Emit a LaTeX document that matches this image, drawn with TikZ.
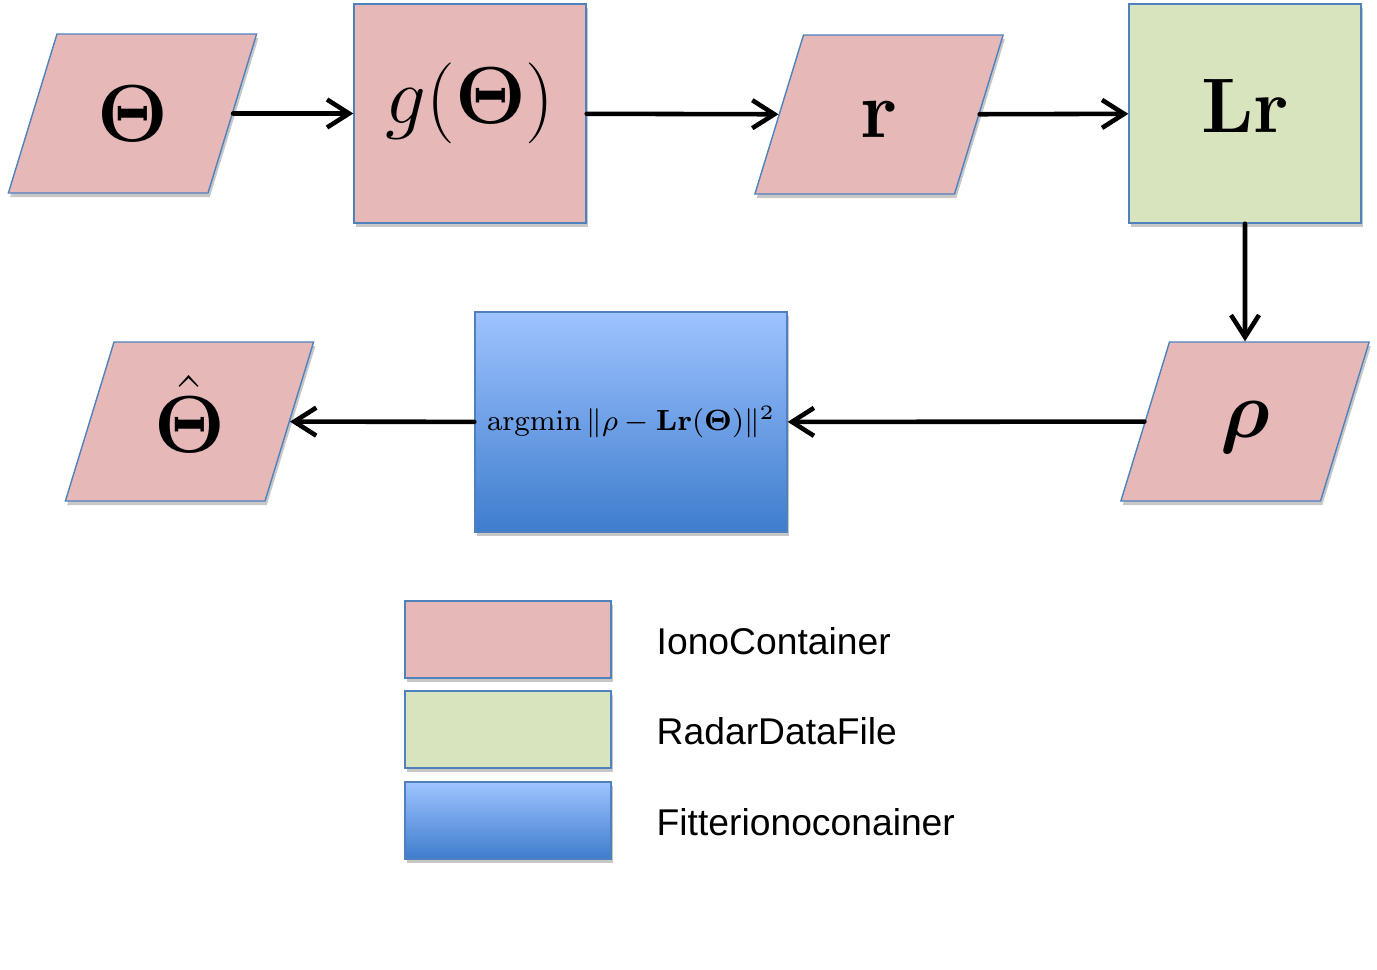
\RequirePackage{fix-cm}
\documentclass[tikz,border=0pt]{standalone}
\usepackage{amsmath}
\usepackage{amssymb}
\usepackage{bm}
\usepackage[no-math]{fontspec}
\setsansfont{Liberation Sans}
\usepackage{tikz}
\usetikzlibrary{shapes.geometric,arrows.meta,shadows}
\definecolor{ionopink}{RGB}{230,185,184}
\definecolor{radargreen}{RGB}{215,228,189}
\definecolor{fittop}{RGB}{158,195,255}
\definecolor{fitbottom}{RGB}{62,125,205}
\definecolor{edgeblue}{RGB}{79,129,189}

\begin{document}
\begin{tikzpicture}[x=1cm,y=-1cm,
		shade drop/.style={drop shadow={shadow xshift=0.5pt,shadow yshift=-1.2pt,fill=black,opacity=0.22}},
		iono/.style={trapezium,trapezium left angle=73,trapezium right angle=107,
			text width=1.51cm,align=center,text height=1.075cm,text depth=0.515cm,
			inner sep=0pt,fill=ionopink,draw=edgeblue,shade drop},
		block/.style={rectangle,minimum width=2.32cm,minimum height=2.19cm,inner sep=0pt,draw=edgeblue,shade drop},
		legbox/.style={rectangle,minimum width=2.06cm,minimum height=0.77cm,inner sep=0pt,draw=edgeblue,shade drop},
		fitshade/.style={top color=fittop,bottom color=fitbottom},
		big/.style={font=\fontsize{23}{28}\selectfont},
		legtext/.style={anchor=west,inner sep=0pt,font=\sffamily\fontsize{10.6}{13}\selectfont},
		flow/.style={-{Straight Barb[length=2.2mm,width=2.8mm]},line width=1.3pt,line cap=round}]
			\useasboundingbox (0,0) rectangle (13.77,9.69);
			\node[iono,big] (theta) at (1.325,1.135) {$\bm{\Theta}$};
			\node[block,fill=ionopink,big,text height=0.5cm,text depth=0.31cm] (g) at (4.70,1.135) {$g(\bm{\Theta})$};
			\node[iono,big,text height=1.02cm,text depth=0.57cm] (r) at (8.79,1.145) {$\mathbf{r}$};
			\node[block,fill=radargreen,font=\fontsize{22}{26}\selectfont,text height=0.55cm,text depth=0.18cm] (Lr) at (12.45,1.135) {$\mathbf{Lr}$};
			\node[iono,big,text height=0.95cm,text depth=0.64cm] (rho) at (12.45,4.215) {$\bm{\rho}$};
			\node[block,fitshade,minimum width=3.12cm,minimum height=2.20cm,font=\fontsize{8.3}{10}\selectfont] (fit) at (6.31,4.22)
				{$\operatorname{argmin}\|\rho - \mathbf{Lr(\Theta)}\|^2$};
			\node[iono,big,text height=1.105cm,text depth=0.485cm] (thetahat) at (1.895,4.215) {$\hat{\bm{\Theta}}$};
			\draw[flow] (theta) -- (g);
			\draw[flow] (g) -- (r);
			\draw[flow] (r) -- (Lr);
			\draw[flow] (Lr) -- (rho);
			\draw[flow] (rho) -- (fit);
			\draw[flow] (fit) -- (thetahat);
			\node[legbox,fill=ionopink] (leg1) at (5.08,6.395) {};
			\node[legbox,fill=radargreen] (leg2) at (5.08,7.295) {};
			\node[legbox,fitshade] (leg3) at (5.08,8.205) {};
			\node[legtext] (txt1) at (6.56,6.41) {IonoContainer};
			\node[legtext] (txt2) at (6.56,7.31) {RadarDataFile};
			\node[legtext] (txt3) at (6.56,8.22) {Fitterionoconainer};
		\end{tikzpicture}
\end{document}
